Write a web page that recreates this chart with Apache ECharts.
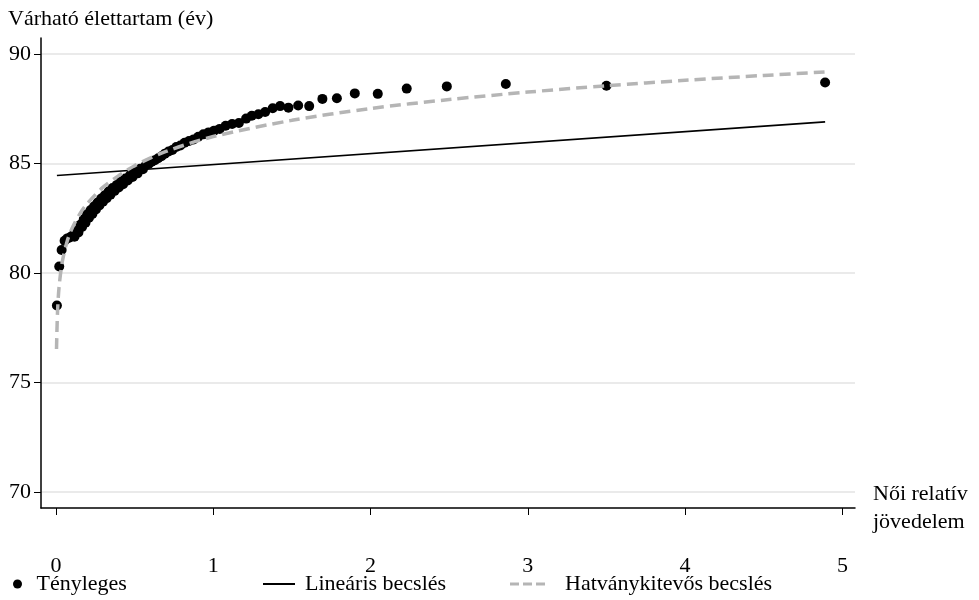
<!DOCTYPE html>
<html><head><meta charset="utf-8">
<script src="https://cdn.jsdelivr.net/npm/echarts@6/dist/echarts.min.js"></script>
<style>html,body{margin:0;padding:0;background:#fff}#c{width:979px;height:600px}</style>
</head><body><div id="c"></div>
<script>
// Observed data: relative income (x) vs life expectancy (y)
var actualX = [0.006,0.021,0.036,0.055,0.072,0.088,0.104,0.118,0.131,0.143,0.155,0.166,0.177,0.188,0.199,0.210,0.221,0.232,0.243,0.254,0.265,0.276,0.288,0.299,0.311,0.323,0.335,0.347,0.360,0.373,0.386,0.399,0.413,0.427,0.441,0.456,0.471,0.487,0.503,0.519,0.536,0.553,0.571,0.590,0.609,0.629,0.650,0.671,0.693,0.716,0.740,0.765,0.791,0.818,0.846,0.875,0.905,0.937,0.970,1.005,1.041,1.079,1.120,1.163,1.209,1.245,1.287,1.330,1.378,1.425,1.478,1.540,1.610,1.694,1.786,1.900,2.046,2.230,2.485,2.860,3.500,4.890];
var actualY = [78.52,80.30,81.05,81.47,81.58,81.62,81.70,81.66,81.92,81.85,82.20,82.10,82.45,82.30,82.68,82.52,82.88,82.70,83.05,82.90,83.22,83.08,83.40,83.25,83.55,83.42,83.72,83.58,83.88,83.75,84.02,83.90,84.18,84.05,84.32,84.22,84.46,84.38,84.60,84.55,84.76,84.74,84.92,84.98,85.08,85.15,85.24,85.33,85.45,85.55,85.62,85.75,85.82,85.95,86.03,86.10,86.22,86.33,86.42,86.50,86.58,86.72,86.80,86.85,87.05,87.18,87.25,87.35,87.52,87.62,87.55,87.65,87.62,87.95,87.98,88.20,88.18,88.42,88.52,88.63,88.55,88.70];
// Linear fit line (endpoints)
var linearX = [0.006, 4.89];
var linearY = [84.45, 86.90];
// Power fit curve
var powerX = [0.0036,0.01,0.02,0.04,0.07,0.1,0.15,0.2,0.3,0.4,0.5,0.7,1.0,1.5,2.0,2.5,3.0,3.5,4.0,4.5,4.89];
var powerY = [76.53,78.21,79.37,80.50,81.42,82.00,82.68,83.18,83.92,84.45,84.90,85.55,86.23,86.97,87.51,87.92,88.26,88.55,88.80,89.02,89.18];
// Tick labels
var xTicks = [0,1,2,3,4,5];
var yTicks = [70,75,80,85,90];
var seriesNames = ['Tényleges','Lineáris becslés','Hatványkitevős becslés'];
var yTitle = 'Várható élettartam (év)';
var xTitle = 'Női relatív\njövedelem';

function zip(a,b){return a.map(function(v,i){return [v,b[i]];});}
var FONT = 'Liberation Serif';
var FS = 22;
var chart = echarts.init(document.getElementById('c'));
function legText(pad){return {fontFamily: FONT, fontSize: FS, color: '#000', padding: [0,0,0,pad]};}
chart.setOption({
  animation: false,
  backgroundColor: '#fff',
  title: {text: yTitle, left: 3, top: 3, textStyle: {fontFamily: FONT, fontSize: FS, fontWeight: 'normal', color: '#000'}},
  grid: {left: 41, right: 124, top: 38, bottom: 92, containLabel: false},
  xAxis: {
    type: 'value', min: -0.095, max: 5.08,
    name: xTitle, nameLocation: 'end', nameGap: 18,
    nameTextStyle: {fontFamily: FONT, fontSize: FS, color: '#000', align: 'left', verticalAlign: 'middle', lineHeight: 28},
    axisLine: {show: true, onZero: false, lineStyle: {color: '#000', width: 1.5}},
    axisTick: {show: true, length: 7, inside: false, customValues: xTicks, lineStyle: {color: '#000', width: 1}},
    axisLabel: {customValues: xTicks, margin: 47, fontFamily: FONT, fontSize: FS, color: '#000'},
    splitLine: {show: false}
  },
  yAxis: {
    type: 'value', min: 69.27, max: 90.73,
    axisLine: {show: true, onZero: false, lineStyle: {color: '#000', width: 1.5}},
    axisTick: {show: true, length: 7, customValues: yTicks, lineStyle: {color: '#000', width: 1}},
    axisLabel: {customValues: yTicks, margin: 10, fontFamily: FONT, fontSize: FS, color: '#000'},
    splitLine: {show: true, lineStyle: {color: '#e3e3e3', width: 1.5}}
  },
  legend: [
    {data: [{name: seriesNames[0], icon: 'circle'}], left: 8, top: 568, itemWidth: 10, itemHeight: 9, textStyle: legText(9)},
    {data: [{name: seriesNames[1], icon: 'path://M0,0h32v2h-32z'}], left: 258, top: 568, itemWidth: 32, itemHeight: 2, textStyle: legText(5)},
    {data: [{name: seriesNames[2], icon: 'path://M0,0h9v3h-9z M13,0h9v3h-9z M26,0h9v3h-9z'}], left: 505, top: 568, itemWidth: 35, itemHeight: 3, textStyle: legText(15)}
  ],
  series: [
    {name: seriesNames[0], type: 'scatter', data: zip(actualX, actualY), symbol: 'circle', symbolSize: 10, itemStyle: {color: '#000', opacity: 1}, z: 2},
    {name: seriesNames[1], type: 'line', data: zip(linearX, linearY), showSymbol: false, symbol: 'none', lineStyle: {color: '#000', width: 1.6}, itemStyle: {color: '#000'}, z: 3},
    {name: seriesNames[2], type: 'line', data: zip(powerX, powerY), smooth: 0.3, showSymbol: false, symbol: 'none', lineStyle: {color: '#b5b5b5', width: 3.5, type: [11, 6]}, itemStyle: {color: '#b5b5b5'}, z: 4}
  ]
});
</script></body></html>
